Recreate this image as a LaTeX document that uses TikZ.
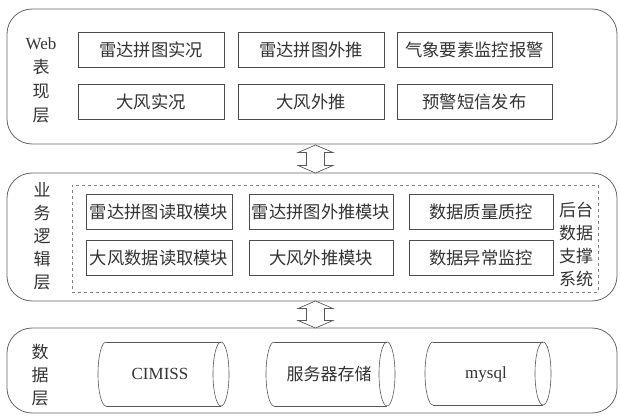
\documentclass[tikz,border=0pt]{standalone}
\usepackage{fontspec}
\setmainfont{Liberation Serif}
\newfontfamily\cjk{Noto Sans CJK SC}
\begin{document}
\begin{tikzpicture}[x=1pt,y=-1pt,
  layer/.style={draw=black!60, line width=0.8pt, rounded corners=25pt, inner sep=0pt},
  modbox/.style={draw=black!70, line width=0.7pt, inner sep=0pt, minimum height=35pt, text=black!80, font=\cjk\fontsize{17.3}{20}\selectfont},
  lbl/.style={align=center, text=black!80, inner sep=0pt, font=\cjk\fontsize{17}{23}\selectfont},
  cyltext/.style={inner sep=0pt, text=black!80, font=\fontsize{17}{20}\selectfont},
  cylline/.style={draw=black!65, line width=0.6pt},
  blockarrow/.style={draw=black!65, line width=0.7pt, fill=white, line join=miter},
  dashbox/.style={draw=black!50, dashed, line width=0.6pt, inner sep=0pt}
]
\useasboundingbox (0,0) rectangle (620,417);

% layers
\node[layer, minimum width=610pt, minimum height=135pt] (web) at (312,76.5) {};
\node[layer, minimum width=610pt, minimum height=128pt] (biz) at (312,237) {};
\node[layer, minimum width=610pt, minimum height=85pt] (data) at (312,370.5) {};

% arrows between layers
\newcommand{\dblarrow}[2]{%
  \draw[blockarrow] (315.5,#1) -- (333,#1+7.5) -- (324.5,#1+7.5) -- (324.5,#2-7.5) -- (333,#2-7.5)
    -- (315.5,#2) -- (298,#2-7.5) -- (306.5,#2-7.5) -- (306.5,#1+7.5) -- (298,#1+7.5) -- cycle;}
\dblarrow{145}{173}
\dblarrow{301}{328}

% web layer
\node[lbl, font=\cjk\fontsize{17}{24}\selectfont] (weblbl) at (41,80) {{\rmfamily\fontsize{17}{24}\selectfont Web}\\表\\现\\层};
\node[modbox, minimum width=146pt] (w1) at (151,50) {雷达拼图实况};
\node[modbox, minimum width=146pt] (w2) at (311,50) {雷达拼图外推};
\node[modbox, minimum width=155pt] (w3) at (474.5,50) {气象要素监控报警};
\node[modbox, minimum width=146pt] (w4) at (151,102) {大风实况};
\node[modbox, minimum width=146pt] (w5) at (311,102) {大风外推};
\node[modbox, minimum width=155pt] (w6) at (474.5,102) {预警短信发布};

% business layer
\node[lbl] (bizlbl) at (42,236) {业\\务\\逻\\辑\\层};
\node[dashbox, minimum width=526pt, minimum height=107pt] (backend) at (335,238.5) {};
\node[modbox, minimum width=146pt] (b1) at (159,212) {雷达拼图读取模块};
\node[modbox, minimum width=144pt] (b2) at (321,212) {雷达拼图外推模块};
\node[modbox, minimum width=144pt] (b3) at (481,212) {数据质量质控};
\node[modbox, minimum width=146pt] (b4) at (159,258) {大风数据读取模块};
\node[modbox, minimum width=144pt] (b5) at (321,258) {大风外推模块};
\node[modbox, minimum width=144pt] (b6) at (481,258) {数据异常监控};
\node[lbl] (backlbl) at (576,244) {后台\\数据\\支撑\\系统};

% data layer
\node[lbl] (datalbl) at (40,375) {数\\据\\层};
\newcommand{\cyl}[5]{% name, x1, x2, ytop, ybot
  \draw[cylline] (#2,#4) -- (#3,#4);
  \draw[cylline] (#2,#5) -- (#3,#5);
  \draw[cylline] (#2,#4) arc[start angle=270, end angle=90, x radius=8, y radius={(#5-#4)/2}];
  \draw[cylline] (#3,{(#4+#5)/2}) ellipse[x radius=8, y radius={(#5-#4)/2}];
  \coordinate (#1) at ({(#2+#3)/2},{(#4+#5)/2});}
\cyl{c1}{106}{221}{342}{406}
\cyl{c2}{274}{387}{342}{406}
\cyl{c3}{433}{543}{342}{405}
\node[cyltext] (t1) at (160,374) {CIMISS};
\node[cyltext, font=\cjk\fontsize{17}{20}\selectfont] (t2) at (329,374) {服务器存储};
\node[cyltext] (t3) at (486,374) {mysql};
\end{tikzpicture}
\end{document}
